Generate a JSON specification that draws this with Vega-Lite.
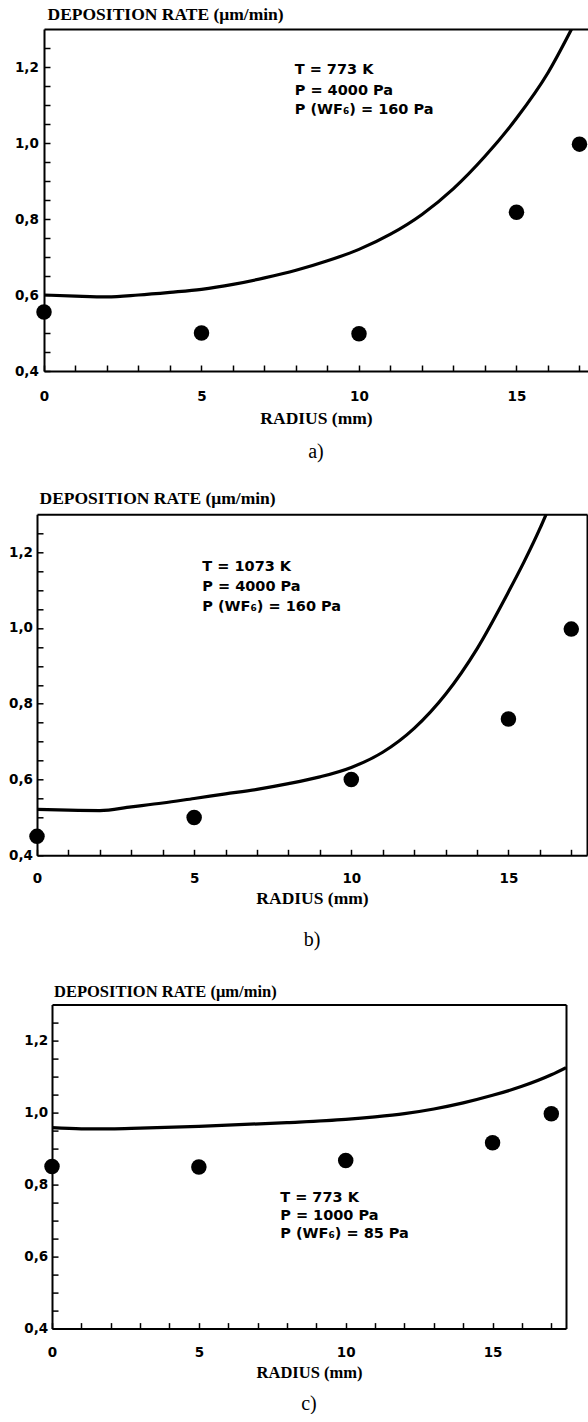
{
  "$schema": "https://vega.github.io/schema/vega-lite/v6.json",
  "background": "white",
  "padding": {"left": 0, "top": 5, "right": 0, "bottom": 0},
  "datasets": {
    "points": [
      {"panel": "a", "r": 0, "rate": 0.555},
      {"panel": "a", "r": 5, "rate": 0.5},
      {"panel": "a", "r": 10, "rate": 0.498},
      {"panel": "a", "r": 15, "rate": 0.818},
      {"panel": "a", "r": 17, "rate": 0.997},
      {"panel": "b", "r": 0, "rate": 0.45},
      {"panel": "b", "r": 5, "rate": 0.5},
      {"panel": "b", "r": 10, "rate": 0.6},
      {"panel": "b", "r": 15, "rate": 0.76},
      {"panel": "b", "r": 17, "rate": 0.997},
      {"panel": "c", "r": 0, "rate": 0.85},
      {"panel": "c", "r": 5, "rate": 0.849},
      {"panel": "c", "r": 10, "rate": 0.867},
      {"panel": "c", "r": 15, "rate": 0.916},
      {"panel": "c", "r": 17, "rate": 0.997}
    ],
    "curve": [
      {"panel": "a", "r": 0, "rate": 0.6},
      {"panel": "a", "r": 1, "rate": 0.597},
      {"panel": "a", "r": 2, "rate": 0.595},
      {"panel": "a", "r": 3, "rate": 0.6},
      {"panel": "a", "r": 4, "rate": 0.607},
      {"panel": "a", "r": 5, "rate": 0.615},
      {"panel": "a", "r": 6, "rate": 0.628},
      {"panel": "a", "r": 7, "rate": 0.645},
      {"panel": "a", "r": 8, "rate": 0.665},
      {"panel": "a", "r": 9, "rate": 0.69},
      {"panel": "a", "r": 10, "rate": 0.72},
      {"panel": "a", "r": 11, "rate": 0.76},
      {"panel": "a", "r": 12, "rate": 0.812},
      {"panel": "a", "r": 13, "rate": 0.88},
      {"panel": "a", "r": 14, "rate": 0.965},
      {"panel": "a", "r": 15, "rate": 1.065},
      {"panel": "a", "r": 16, "rate": 1.185},
      {"panel": "a", "r": 16.75, "rate": 1.3},
      {"panel": "b", "r": 0, "rate": 0.521},
      {"panel": "b", "r": 1, "rate": 0.519},
      {"panel": "b", "r": 2, "rate": 0.518},
      {"panel": "b", "r": 3, "rate": 0.528},
      {"panel": "b", "r": 4, "rate": 0.538},
      {"panel": "b", "r": 5, "rate": 0.55},
      {"panel": "b", "r": 6, "rate": 0.562},
      {"panel": "b", "r": 7, "rate": 0.574},
      {"panel": "b", "r": 8, "rate": 0.589},
      {"panel": "b", "r": 9, "rate": 0.607},
      {"panel": "b", "r": 10, "rate": 0.632},
      {"panel": "b", "r": 11, "rate": 0.672},
      {"panel": "b", "r": 12, "rate": 0.735},
      {"panel": "b", "r": 13, "rate": 0.825},
      {"panel": "b", "r": 14, "rate": 0.945},
      {"panel": "b", "r": 15, "rate": 1.095},
      {"panel": "b", "r": 15.5, "rate": 1.175},
      {"panel": "b", "r": 16, "rate": 1.262},
      {"panel": "b", "r": 16.2, "rate": 1.3},
      {"panel": "c", "r": 0, "rate": 0.958},
      {"panel": "c", "r": 1, "rate": 0.955},
      {"panel": "c", "r": 2, "rate": 0.955},
      {"panel": "c", "r": 3, "rate": 0.957},
      {"panel": "c", "r": 5, "rate": 0.962},
      {"panel": "c", "r": 8, "rate": 0.972},
      {"panel": "c", "r": 10, "rate": 0.981},
      {"panel": "c", "r": 11, "rate": 0.988},
      {"panel": "c", "r": 12, "rate": 0.997},
      {"panel": "c", "r": 13, "rate": 1.01},
      {"panel": "c", "r": 14, "rate": 1.027},
      {"panel": "c", "r": 15, "rate": 1.048},
      {"panel": "c", "r": 16, "rate": 1.073},
      {"panel": "c", "r": 17, "rate": 1.105},
      {"panel": "c", "r": 17.5, "rate": 1.125}
    ],
    "notes": [
      {"panel": "a", "r": 7.96, "rate": 1.191, "t": "T = 773 K"},
      {"panel": "a", "r": 7.96, "rate": 1.138, "t": "P = 4000 Pa"},
      {"panel": "a", "r": 7.96, "rate": 1.086, "t": "P (WF₆) = 160 Pa"},
      {"panel": "b", "r": 5.26, "rate": 1.162, "t": "T = 1073 K"},
      {"panel": "b", "r": 5.26, "rate": 1.108, "t": "P = 4000 Pa"},
      {"panel": "b", "r": 5.26, "rate": 1.055, "t": "P (WF₆) = 160 Pa"},
      {"panel": "c", "r": 7.77, "rate": 0.763, "t": "T = 773 K"},
      {"panel": "c", "r": 7.77, "rate": 0.713, "t": "P = 1000 Pa"},
      {"panel": "c", "r": 7.77, "rate": 0.662, "t": "P (WF₆) = 85 Pa"}
    ]
  },
  "bounds": "full",
  "spacing": 27.3,
  "vconcat": [
    {
      "spacing": 0,
      "hconcat": [
        {"width": 7.5, "height": 1, "data": {"values": []}, "mark": "point"},
        {
          "width": 544,
          "height": 342,
          "title": {"text": "a)", "orient": "bottom", "anchor": "middle", "font": "Liberation Serif", "fontSize": 20, "fontWeight": "normal", "color": "black", "offset": 15},
          "resolve": {"axis": {"x": "independent", "y": "independent"}},
          "layer": [
            {
              "data": {"name": "curve"},
              "transform": [{"filter": "datum.panel === 'a'"}],
              "mark": {"type": "line", "color": "black", "strokeWidth": 3.2, "interpolate": "monotone", "clip": true},
              "encoding": {
                "x": {"field": "r", "type": "quantitative", "scale": {"domain": [0, 17.27], "nice": false, "zero": false},
                      "axis": {"orient": "top", "labels": false, "ticks": false, "title": null, "grid": false, "domainWidth": 2, "domainColor": "black"}},
                "y": {"field": "rate", "type": "quantitative", "scale": {"domain": [0.4, 1.3], "nice": false, "zero": false}, "axis": null}
              }
            },
            {
              "data": {"name": "points"},
              "transform": [{"filter": "datum.panel === 'a'"}],
              "mark": {"type": "point", "filled": true, "color": "black", "opacity": 1, "size": 240},
              "encoding": {
                "x": {"field": "r", "type": "quantitative",
                      "axis": {"orient": "bottom", "values": [0,1,2,3,4,5,6,7,8,9,10,11,12,13,14,15,16,17],
                               "labelExpr": "datum.value % 5 === 0 ? datum.label : ''",
                               "labelFlush": false, "labelOverlap": false, "grid": false,
                               "tickSize": -6, "tickWidth": 1.5, "tickColor": "black", "domainWidth": 2, "domainColor": "black",
                               "labelFont": "DejaVu Sans", "labelFontWeight": "bold", "labelFontSize": 13.5, "labelColor": "black", "labelPadding": 24,
                               "title": "RADIUS (mm)", "titleFont": "Liberation Serif", "titleFontWeight": "bold", "titleFontSize": 17.5, "titleColor": "black",
                               "titleX": 272, "titleY": 47.5, "titleAlign": "center", "titleBaseline": "middle"}},
                "y": {"field": "rate", "type": "quantitative",
                      "axis": {"orient": "left", "values": [0.4,0.45,0.5,0.55,0.6,0.65,0.7,0.75,0.8,0.85,0.9,0.95,1.0,1.05,1.1,1.15,1.2,1.25],
                               "labelExpr": "abs(datum.value * 5 - round(datum.value * 5)) < 0.01 ? replace(format(datum.value, '.1f'), '.', ',') : ''",
                               "labelOverlap": false, "grid": false, "minExtent": 36,
                               "tickSize": -6, "tickWidth": 1.5, "tickColor": "black", "domainWidth": 2, "domainColor": "black",
                               "labelFont": "DejaVu Sans", "labelFontWeight": "bold", "labelFontSize": 13.5, "labelColor": "black", "labelPadding": 11.7,
                               "title": "DEPOSITION RATE (μm/min)", "titleFont": "Liberation Serif", "titleFontWeight": "bold", "titleFontSize": 17.5, "titleColor": "black",
                               "titleAngle": 0, "titleAlign": "left", "titleBaseline": "alphabetic", "titleX": 3, "titleY": -9.3}}
              }
            },
            {
              "data": {"name": "notes"},
              "transform": [{"filter": "datum.panel === 'a'"}],
              "mark": {"type": "text", "align": "left", "baseline": "middle", "font": "DejaVu Sans", "fontWeight": "bold", "fontSize": 14.5, "color": "black"},
              "encoding": {
                "x": {"field": "r", "type": "quantitative", "axis": null},
                "y": {"field": "rate", "type": "quantitative", "axis": null},
                "text": {"field": "t"}
              }
            }
          ]
        }
      ]
    },
    {
      "spacing": 0,
      "hconcat": [
        {"width": 1, "height": 1, "data": {"values": []}, "mark": "point"},
        {
          "width": 550,
          "height": 341,
          "title": {"text": ["b)", " "], "lineHeight": 5.7, "orient": "bottom", "anchor": "middle", "font": "Liberation Serif", "fontSize": 20, "fontWeight": "normal", "color": "black", "offset": 23},
          "resolve": {"axis": {"x": "independent", "y": "independent"}},
          "layer": [
            {
              "data": {"name": "curve"},
              "transform": [{"filter": "datum.panel === 'b'"}],
              "mark": {"type": "line", "color": "black", "strokeWidth": 3.2, "interpolate": "monotone", "clip": true},
              "encoding": {
                "x": {"field": "r", "type": "quantitative", "scale": {"domain": [0, 17.5], "nice": false, "zero": false},
                      "axis": {"orient": "top", "labels": false, "ticks": false, "title": null, "grid": false, "domainWidth": 2, "domainColor": "black"}},
                "y": {"field": "rate", "type": "quantitative", "scale": {"domain": [0.4, 1.3], "nice": false, "zero": false},
                      "axis": {"orient": "right", "labels": false, "ticks": false, "title": null, "grid": false, "domainWidth": 2, "domainColor": "black"}}
              }
            },
            {
              "data": {"name": "points"},
              "transform": [{"filter": "datum.panel === 'b'"}],
              "mark": {"type": "point", "filled": true, "color": "black", "opacity": 1, "size": 240},
              "encoding": {
                "x": {"field": "r", "type": "quantitative",
                      "axis": {"orient": "bottom", "values": [0,1,2,3,4,5,6,7,8,9,10,11,12,13,14,15,16,17],
                               "labelExpr": "datum.value % 5 === 0 ? datum.label : ''",
                               "labelFlush": false, "labelOverlap": false, "grid": false,
                               "tickSize": -6, "tickWidth": 1.5, "tickColor": "black", "domainWidth": 2, "domainColor": "black",
                               "labelFont": "DejaVu Sans", "labelFontWeight": "bold", "labelFontSize": 13.5, "labelColor": "black", "labelPadding": 22.6,
                               "title": "RADIUS (mm)", "titleFont": "Liberation Serif", "titleFontWeight": "bold", "titleFontSize": 17.5, "titleColor": "black",
                               "titleX": 275, "titleY": 43.5, "titleAlign": "center", "titleBaseline": "middle"}},
                "y": {"field": "rate", "type": "quantitative",
                      "axis": {"orient": "left", "values": [0.4,0.45,0.5,0.55,0.6,0.65,0.7,0.75,0.8,0.85,0.9,0.95,1.0,1.05,1.1,1.15,1.2,1.25],
                               "labelExpr": "abs(datum.value * 5 - round(datum.value * 5)) < 0.01 ? replace(format(datum.value, '.1f'), '.', ',') : ''",
                               "labelOverlap": false, "grid": false, "minExtent": 36,
                               "tickSize": -6, "tickWidth": 1.5, "tickColor": "black", "domainWidth": 2, "domainColor": "black",
                               "labelFont": "DejaVu Sans", "labelFontWeight": "bold", "labelFontSize": 13.5, "labelColor": "black", "labelPadding": 10.5,
                               "title": "DEPOSITION RATE (μm/min)", "titleFont": "Liberation Serif", "titleFontWeight": "bold", "titleFontSize": 17.5, "titleColor": "black",
                               "titleAngle": 0, "titleAlign": "left", "titleBaseline": "alphabetic", "titleX": 2, "titleY": -10.5}}
              }
            },
            {
              "data": {"name": "notes"},
              "transform": [{"filter": "datum.panel === 'b'"}],
              "mark": {"type": "text", "align": "left", "baseline": "middle", "font": "DejaVu Sans", "fontWeight": "bold", "fontSize": 14.5, "color": "black"},
              "encoding": {
                "x": {"field": "r", "type": "quantitative", "axis": null},
                "y": {"field": "rate", "type": "quantitative", "axis": null},
                "text": {"field": "t"}
              }
            }
          ]
        }
      ]
    },
    {
      "spacing": 0,
      "hconcat": [
        {"width": 15.7, "height": 1, "data": {"values": []}, "mark": "point"},
        {
          "width": 514,
          "height": 324,
          "title": {"text": "c)", "orient": "bottom", "anchor": "middle", "font": "Liberation Serif", "fontSize": 20, "fontWeight": "normal", "color": "black", "offset": 13},
          "resolve": {"axis": {"x": "independent", "y": "independent"}},
          "layer": [
            {
              "data": {"name": "curve"},
              "transform": [{"filter": "datum.panel === 'c'"}],
              "mark": {"type": "line", "color": "black", "strokeWidth": 3.2, "interpolate": "monotone", "clip": true},
              "encoding": {
                "x": {"field": "r", "type": "quantitative", "scale": {"domain": [0, 17.5], "nice": false, "zero": false},
                      "axis": {"orient": "top", "labels": false, "ticks": false, "title": null, "grid": false, "domainWidth": 2, "domainColor": "black"}},
                "y": {"field": "rate", "type": "quantitative", "scale": {"domain": [0.4, 1.3], "nice": false, "zero": false},
                      "axis": {"orient": "right", "labels": false, "ticks": false, "title": null, "grid": false, "domainWidth": 2, "domainColor": "black"}}
              }
            },
            {
              "data": {"name": "points"},
              "transform": [{"filter": "datum.panel === 'c'"}],
              "mark": {"type": "point", "filled": true, "color": "black", "opacity": 1, "size": 240},
              "encoding": {
                "x": {"field": "r", "type": "quantitative",
                      "axis": {"orient": "bottom", "values": [0,1,2,3,4,5,6,7,8,9,10,11,12,13,14,15,16,17],
                               "labelExpr": "datum.value % 5 === 0 ? datum.label : ''",
                               "labelFlush": false, "labelOverlap": false, "grid": false,
                               "tickSize": -6, "tickWidth": 1.5, "tickColor": "black", "domainWidth": 2, "domainColor": "black",
                               "labelFont": "DejaVu Sans", "labelFontWeight": "bold", "labelFontSize": 13.5, "labelColor": "black", "labelPadding": 22.6,
                               "title": "RADIUS (mm)", "titleFont": "Liberation Serif", "titleFontWeight": "bold", "titleFontSize": 16.5, "titleColor": "black",
                               "titleX": 257, "titleY": 43.9, "titleAlign": "center", "titleBaseline": "middle"}},
                "y": {"field": "rate", "type": "quantitative",
                      "axis": {"orient": "left", "values": [0.4,0.45,0.5,0.55,0.6,0.65,0.7,0.75,0.8,0.85,0.9,0.95,1.0,1.05,1.1,1.15,1.2,1.25],
                               "labelExpr": "abs(datum.value * 5 - round(datum.value * 5)) < 0.01 ? replace(format(datum.value, '.1f'), '.', ',') : ''",
                               "labelOverlap": false, "grid": false, "minExtent": 36,
                               "tickSize": -6, "tickWidth": 1.5, "tickColor": "black", "domainWidth": 2, "domainColor": "black",
                               "labelFont": "DejaVu Sans", "labelFontWeight": "bold", "labelFontSize": 13.5, "labelColor": "black", "labelPadding": 10.3,
                               "title": "DEPOSITION RATE (μm/min)", "titleFont": "Liberation Serif", "titleFontWeight": "bold", "titleFontSize": 16.5, "titleColor": "black",
                               "titleAngle": 0, "titleAlign": "left", "titleBaseline": "alphabetic", "titleX": 1.5, "titleY": -7.8}}
              }
            },
            {
              "data": {"name": "notes"},
              "transform": [{"filter": "datum.panel === 'c'"}],
              "mark": {"type": "text", "align": "left", "baseline": "middle", "font": "DejaVu Sans", "fontWeight": "bold", "fontSize": 14.5, "color": "black"},
              "encoding": {
                "x": {"field": "r", "type": "quantitative", "axis": null},
                "y": {"field": "rate", "type": "quantitative", "axis": null},
                "text": {"field": "t"}
              }
            }
          ]
        }
      ]
    }
  ],
  "config": {"view": {"stroke": null}, "axis": {"grid": false}}
}
